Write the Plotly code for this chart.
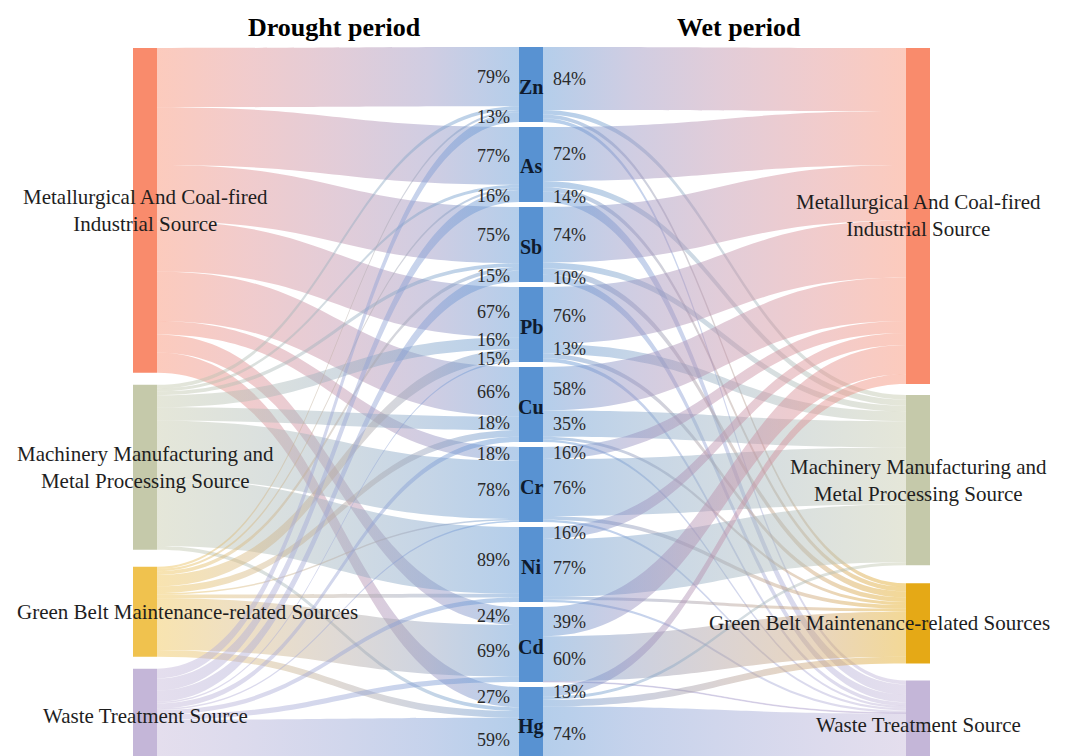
import json
import plotly.graph_objects as go

# ---------------------------------------------------------------- data
metals = ["Zn", "As", "Sb", "Pb", "Cu", "Cr", "Ni", "Cd", "Hg"]

source_names = [
    "Metallurgical And Coal-fired<br>Industrial Source",
    "Machinery Manufacturing and<br>Metal Processing Source",
    "Green Belt Maintenance-related Sources",
    "Waste Treatment Source",
]

# contribution (%) of each source to each metal, drought period
drought_metallurgical = [79, 77, 75, 67, 66, 18, 0, 24, 27]
drought_machinery = [5, 4, 5, 16, 18, 78, 89, 0, 5]
drought_greenbelt = [3, 3, 5, 15, 9, 2, 5, 69, 9]
drought_waste = [13, 16, 15, 2, 7, 2, 6, 7, 59]

# contribution (%) of each source to each metal, wet period
wet_metallurgical = [84, 72, 74, 76, 58, 16, 16, 39, 13]
wet_machinery = [6, 8, 8, 13, 35, 76, 77, 0, 4]
wet_greenbelt = [5, 6, 8, 6, 4, 5, 4, 60, 9]
wet_waste = [5, 14, 10, 5, 3, 3, 3, 1, 74]

LABEL_MIN = 10  # shares below this are drawn but not annotated

# ---------------------------------------------------------------- style
W, H = 1067, 756
TOP = 47
PLOT_H = H - TOP
NODE_PAD = 4.25
THICK = 24
X_LEFT, X_MID, X_RIGHT = 145, 531, 918

LEFT_START, LEFT_GAPS = 48, [12, 17, 12]
MID_START, MID_GAP = 47, 5
RIGHT_START, RIGHT_GAPS = 48, [11, 18, 17]

left_colors = [(249, 139, 108), (197, 201, 170), (240, 194, 78), (196, 182, 216)]
right_colors = [(249, 139, 108), (197, 201, 170), (229, 169, 22), (196, 182, 216)]
metal_color = (88, 146, 210)
LINK_ALPHA = 0.45

SERIF = "Liberation Serif, Times New Roman, serif"


def rgb(c):
    return "rgb(%d,%d,%d)" % c


def rgba(c, a):
    return "rgba(%d,%d,%d,%.2f)" % (c[0], c[1], c[2], a)


drought = [drought_metallurgical, drought_machinery, drought_greenbelt, drought_waste]
wet = [wet_metallurgical, wet_machinery, wet_greenbelt, wet_waste]
n_src, n_met = len(drought), len(metals)

left_tot = [sum(r) for r in drought]
right_tot = [sum(r) for r in wet]
metal_tot = [max(sum(d[j] for d in drought), sum(w[j] for w in wet)) for j in range(n_met)]

# same vertical scale as the sankey layout uses for every column
ky = min((PLOT_H - (len(col) - 1) * NODE_PAD) / sum(col)
         for col in (left_tot, metal_tot, right_tot))


def stack(totals, start, gaps):
    tops, y = [], start
    for i, t in enumerate(totals):
        tops.append(y)
        y += t * ky + (gaps[i] if i < len(gaps) else 0)
    return tops


left_top = stack(left_tot, LEFT_START, LEFT_GAPS)
metal_top = stack(metal_tot, MID_START, [MID_GAP] * (n_met - 1))
right_top = stack(right_tot, RIGHT_START, RIGHT_GAPS)

left_mid = [t + v * ky / 2 for t, v in zip(left_top, left_tot)]
metal_mid = [t + v * ky / 2 for t, v in zip(metal_top, metal_tot)]
right_mid = [t + v * ky / 2 for t, v in zip(right_top, right_tot)]

# ---------------------------------------------------------------- nodes
node_x = ([X_LEFT / W] * n_src + [X_MID / W] * n_met + [X_RIGHT / W] * n_src)
node_y = [(y - TOP) / PLOT_H for y in left_mid + metal_mid + right_mid]
node_rgb = list(left_colors) + [metal_color] * n_met + list(right_colors)
node_colors = [rgb(c) for c in node_rgb]

# ---------------------------------------------------------------- links
src, tgt, val, lcol = [], [], [], []
for i in range(n_src):
    for j in range(n_met):
        if drought[i][j] > 0:
            src.append(i); tgt.append(n_src + j); val.append(drought[i][j])
            lcol.append(rgba(left_colors[i], LINK_ALPHA))
for j in range(n_met):
    for i in range(n_src):
        if wet[i][j] > 0:
            src.append(n_src + j); tgt.append(n_src + n_met + i); val.append(wet[i][j])
            lcol.append(rgba(right_colors[i], LINK_ALPHA))

fig = go.Figure(go.Sankey(
    arrangement="fixed",
    hoverinfo="skip",
    node=dict(
        label=[""] * (2 * n_src + n_met),
        x=node_x, y=node_y,
        pad=NODE_PAD, thickness=THICK,
        color=node_colors,
        line=dict(width=0),
        hoverinfo="skip",
    ),
    link=dict(source=src, target=tgt, value=val, color=lcol, hoverinfo="skip"),
))


# ---------------------------------------------------------------- text
def py(ypx):
    return (H - ypx) / PLOT_H


def spread(items, min_sep=19, rounds=40):
    items = sorted(items, key=lambda t: t[0])
    for _ in range(rounds):
        for k in range(len(items) - 1):
            d = items[k + 1][0] - items[k][0]
            if d < min_sep:
                s = (min_sep - d) / 2
                items[k] = (items[k][0] - s, items[k][1])
                items[k + 1] = (items[k + 1][0] + s, items[k + 1][1])
    return items


def share_labels(table):
    out = []
    for j in range(n_met):
        cum = 0
        for i in range(n_src):
            v = table[i][j]
            if v >= LABEL_MIN:
                out.append((metal_top[j] + (cum + v / 2) * ky, "%d%%" % v))
            cum += v
    return spread(out)


ann = []
for ypx, txt in share_labels(drought):
    ann.append(dict(x=(X_MID - 19) / W, y=py(ypx), text=txt, xanchor="right",
                    font=dict(size=18, color="#2a2a2a", family=SERIF)))
for ypx, txt in share_labels(wet):
    ann.append(dict(x=(X_MID + 20) / W, y=py(ypx), text=txt, xanchor="left",
                    font=dict(size=18, color="#2a2a2a", family=SERIF)))

for j, m in enumerate(metals):
    ann.append(dict(x=X_MID / W, y=py(metal_mid[j] + 2), text="<b>%s</b>" % m,
                    xanchor="center",
                    font=dict(size=20, color="#0f1b2d", family=SERIF)))

for i, name in enumerate(source_names):
    left = dict(x=X_LEFT / W, xanchor="center")
    right = dict(x=X_RIGHT / W, xanchor="center")
    if i == 2:  # long single-line label kept inside the page
        left = dict(x=15 / W, xanchor="left")
        right = dict(x=1052 / W, xanchor="right")
    ann.append(dict(y=py(left_mid[i]), text=name, align="center",
                    font=dict(size=21, color="#1e1e1e", family=SERIF), **left))
    ann.append(dict(y=py(right_mid[i]), text=name, align="center",
                    font=dict(size=21, color="#1e1e1e", family=SERIF), **right))

ann.append(dict(x=334 / W, y=py(27), text="<b>Drought period</b>", xanchor="center",
                font=dict(size=26, color="#000000", family=SERIF)))
ann.append(dict(x=739 / W, y=py(27), text="<b>Wet period</b>", xanchor="center",
                font=dict(size=26, color="#000000", family=SERIF)))

for a in ann:
    a.update(xref="paper", yref="paper", showarrow=False, yanchor="middle")

fig.update_layout(
    width=W, height=H,
    margin=dict(l=0, r=0, t=TOP, b=0, pad=0),
    paper_bgcolor="white", plot_bgcolor="white",
    hovermode=False,
    annotations=ann,
)

# colour each band with a gradient running from its source node colour to its
# target node colour (blended in linear light so the middle stays vivid)
gradient_js = """
var gd = document.getElementById('{plot_id}');
var cols = %s;
var ns = 'http://www.w3.org/2000/svg';
var svg = gd.querySelector('svg.main-svg');
var defs = document.createElementNS(ns, 'defs');
svg.insertBefore(defs, svg.firstChild);
function lin(v) { v /= 255; return v <= 0.04045 ? v / 12.92 : Math.pow((v + 0.055) / 1.055, 2.4); }
function enc(v) { v = v <= 0.0031308 ? v * 12.92 : 1.055 * Math.pow(v, 1 / 2.4) - 0.055; return Math.round(Math.max(0, Math.min(1, v)) * 255); }
function mix(a, b, t) {
  return 'rgb(' + [0, 1, 2].map(function(c) { return enc(lin(a[c]) * (1 - t) + lin(b[c]) * t); }).join(',') + ')';
}
gd.querySelectorAll('path.sankey-link').forEach(function(p, k) {
  var d = p.__data__;
  if (!d || !d.link || !d.link.source || !d.link.target) return;
  var a = cols[d.link.source.pointNumber], b = cols[d.link.target.pointNumber];
  var g = document.createElementNS(ns, 'linearGradient');
  g.setAttribute('id', 'bandgrad' + k);
  [0, 0.25, 0.5, 0.75, 1].forEach(function(t) {
    var e = document.createElementNS(ns, 'stop');
    e.setAttribute('offset', t);
    e.setAttribute('stop-color', mix(a, b, t));
    g.appendChild(e);
  });
  defs.appendChild(g);
  p.style.fill = 'url(#bandgrad' + k + ')';
});
""" % json.dumps(node_rgb)

fig.write_html("out.html", post_script=gradient_js)
